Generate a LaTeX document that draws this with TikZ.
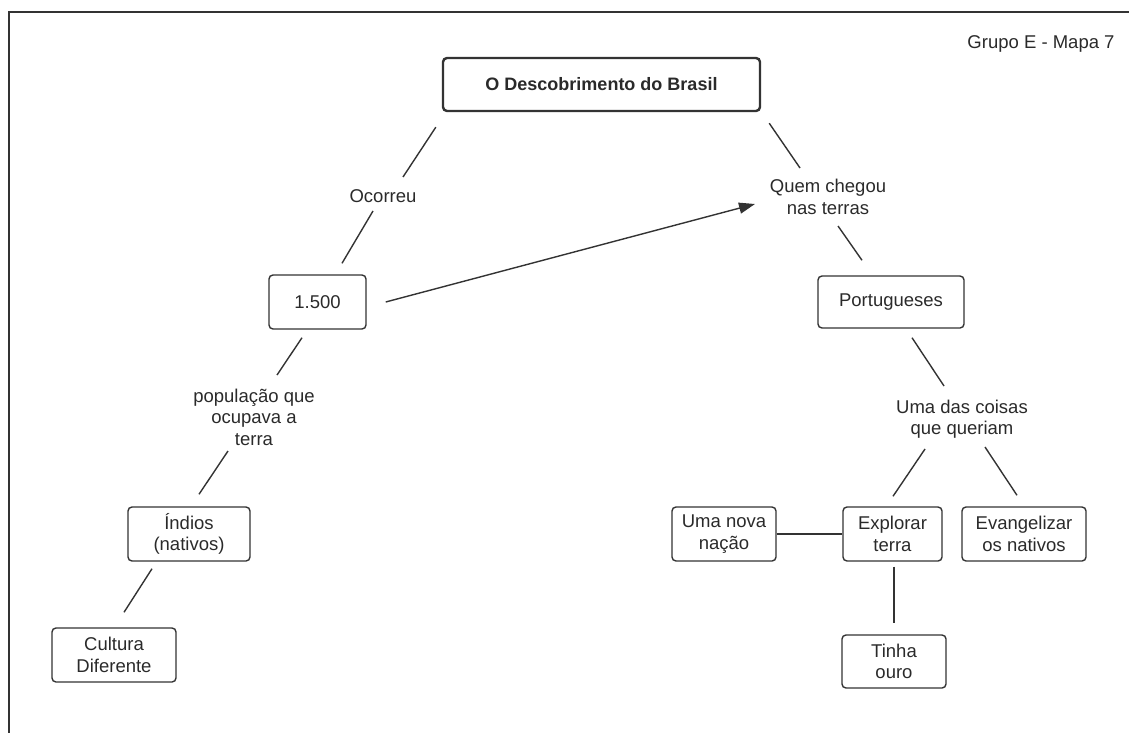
\documentclass[tikz,border=0pt]{standalone}
\usepackage{fontspec}
\setmainfont{Liberation Sans}
\usetikzlibrary{arrows.meta,calc}

\definecolor{ink}{HTML}{2A2A2A}
\definecolor{rule}{HTML}{333333}

\tikzset{
  txt/.style={font=\fontsize{18.5}{21.5}\selectfont, text=ink, align=center, inner sep=0pt},
  conceptbox/.style={txt, draw=rule, line width=1.4pt, rounded corners=4pt, minimum height=54pt},
  titlebox/.style={conceptbox, line width=2.4pt, font=\fontsize{18}{21.5}\selectfont\bfseries},
  link/.style={draw=rule, line width=1.4pt},
  linkarrow/.style={link, -{Triangle[length=16pt,width=11pt]}},
  frame/.style={draw=rule, line width=1.3pt}
}

\begin{document}
\begin{tikzpicture}[x=1pt,y=-1pt]
  \useasboundingbox (0,0) rectangle (1129,733);

  % outer frame (open to the right and bottom)
  \draw[frame] (9,733) -- (9,12) -- (1129,12);

  % header
  \node[txt] (grupo) at (1041,44) {Grupo E - Mapa 7};

  % concepts
  \node[titlebox, minimum width=317pt, minimum height=53pt] (title) at (601.5,84.5) {O Descobrimento do Brasil};
  \node[conceptbox, minimum width=97pt] (ano) at (317.5,302) {1.500};
  \node[conceptbox, minimum width=146pt, minimum height=52pt] (port) at (891,302) {Portugueses};
  \node[conceptbox, minimum width=122pt] (indios) at (189,534) {Índios\\(nativos)};
  \node[conceptbox, minimum width=124pt] (cultura) at (114,655) {Cultura\\Diferente};
  \node[conceptbox, minimum width=104pt] (nova) at (724,534) {Uma nova\\nação};
  \node[conceptbox, minimum width=99pt] (explorar) at (892.5,534) {Explorar\\terra};
  \node[conceptbox, minimum width=124pt] (evang) at (1024,534) {Evangelizar\\os nativos};
  \node[conceptbox, minimum width=104pt, minimum height=53pt] (tinha) at (894,661.5) {Tinha\\ouro};

  % linking phrases
  \node[txt] (ocorreu) at (383,196) {Ocorreu};
  \node[txt] (quem) at (828,197) {Quem chegou\\nas terras};
  \node[txt] (uma) at (962,419) {Uma das coisas\\que queriam};
  \node[txt] (pop) at (254,417) {população que\\ocupava a\\terra};

  % connectors
  \draw[link] ($(title.south west)+(-6,15)$) -- ($(ocorreu.center)+(20,-19)$);
  \draw[link] ($(ocorreu.center)+(-10,15)$) -- ($(ano.north)+(24.5,-11)$);
  \draw[link] ($(title.south east)+(8,11)$) -- ($(quem.center)+(-28,-29)$);
  \draw[link] ($(quem.center)+(10,29)$) -- ($(port.north)+(-29,-15)$);
  \draw[link] ($(port.south)+(21,9)$) -- ($(uma.center)+(-18,-33)$);
  \draw[link] ($(uma.center)+(-37,30)$) -- ($(explorar.north)+(0.5,-10)$);
  \draw[link] ($(uma.center)+(23,28)$) -- ($(evang.north)+(-7,-11)$);
  \draw[link] (nova.east) -- (explorar.west);
  \draw[link] ($(explorar.south)+(1.5,5)$) -- ($(tinha.north)+(0,-11)$);
  \draw[link] ($(ano.south)+(-15.5,8)$) -- ($(pop.center)+(23,-42)$);
  \draw[link] ($(pop.center)+(-26,34)$) -- ($(indios.north)+(10,-12)$);
  \draw[link] ($(indios.south)+(-37,7)$) -- ($(cultura.north)+(10,-15)$);
  \draw[linkarrow] ($(ano.east)+(19,0)$) -- ($(quem.center)+(-73,7)$);
\end{tikzpicture}
\end{document}
